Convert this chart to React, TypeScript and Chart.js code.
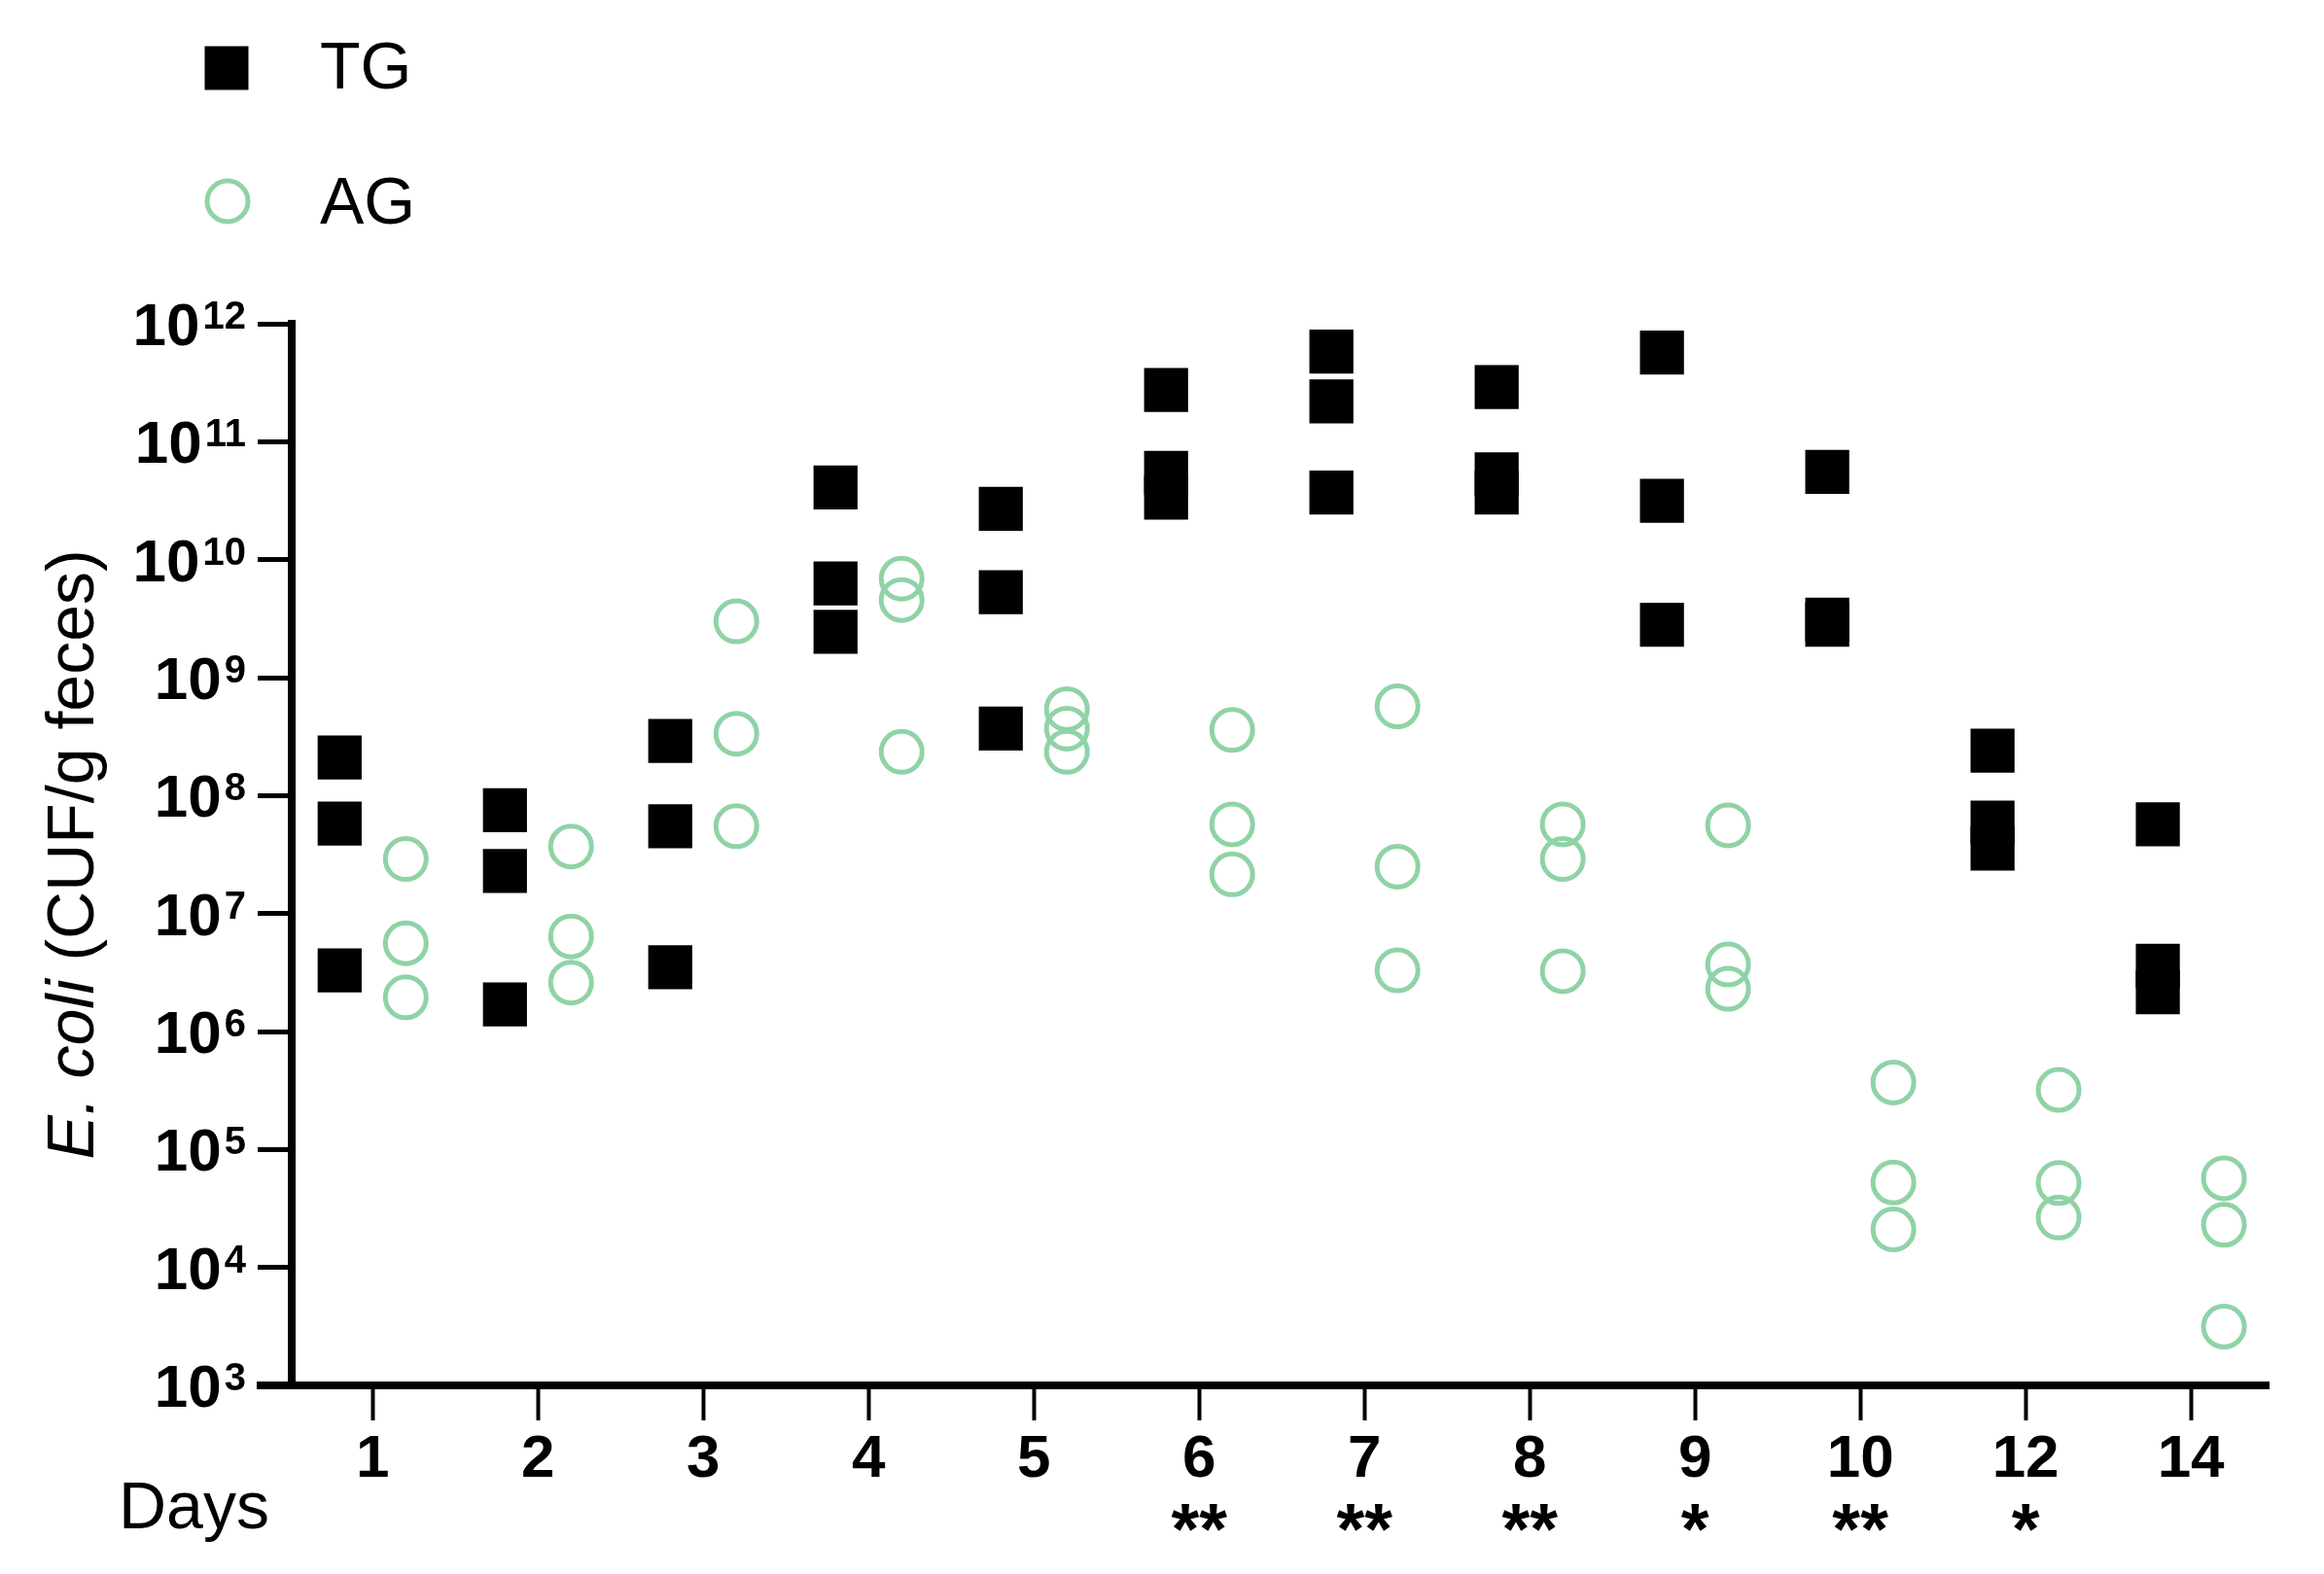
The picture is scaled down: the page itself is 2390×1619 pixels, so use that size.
import React, { useEffect, useRef } from 'react';
import { Chart, registerables } from 'chart.js';

Chart.register(...registerables);

// ---------- data ----------
const DAY_LABELS = ['1', '2', '3', '4', '5', '6', '7', '8', '9', '10', '12', '14'];
const SIGNIFICANCE = ['', '', '', '', '', '**', '**', '**', '*', '**', '*', ''];
const Y_EXPONENTS = [3, 4, 5, 6, 7, 8, 9, 10, 11, 12];

const TG_VALUES = [
  [2.1e8, 5.8e7, 3.3e6],
  [7.5e7, 2.3e7, 1.7e6],
  [2.9e8, 5.5e7, 3.5e6],
  [4.1e10, 6.3e9, 2.45e9],
  [2.7e10, 5.3e9, 3.7e8],
  [2.75e11, 5.45e10, 3.35e10],
  [5.8e11, 2.2e11, 3.7e10],
  [2.9e11, 5.3e10, 3.7e10],
  [5.7e11, 3.15e10, 2.8e9],
  [5.55e10, 3.1e9, 2.8e9],
  [2.4e8, 5.9e7, 3.55e7],
  [5.7e7, 3.6e6, 2.15e6],
];

const AG_VALUES = [
  [2.9e7, 5.6e6, 1.95e6],
  [3.7e7, 6.4e6, 2.6e6],
  [3.0e9, 3.35e8, 5.5e7],
  [6.9e9, 4.55e9, 2.35e8],
  [5.4e8, 3.7e8, 2.35e8],
  [3.6e8, 5.7e7, 2.15e7],
  [5.7e8, 2.5e7, 3.3e6],
  [5.7e7, 2.9e7, 3.25e6],
  [5.6e7, 3.7e6, 2.3e6],
  [3.7e5, 5.25e4, 2.1e4],
  [3.2e5, 5.2e4, 2.65e4],
  [5.7e4, 2.3e4, 3.15e3],
];

// ---------- style ----------
const W = 2390;
const H = 1619;
const FONT = "'Liberation Sans', Arial, Helvetica, sans-serif";
const GREEN = '#8fd3a6';
const TG_OFFSET = -0.2;
const AG_OFFSET = 0.2;

const toPoints = (groups: number[][], offset: number) =>
  groups.flatMap((vals, i) => vals.map((v) => ({ x: i + 1 + offset, y: v })));

const decorPlugin = {
  id: 'decor',
  afterDraw(chart: any) {
    const ctx = chart.ctx as CanvasRenderingContext2D;
    const area = chart.chartArea;
    const yScale = chart.scales.y;
    const xScale = chart.scales.x;
    ctx.save();

    // extend x-axis line to the left of the y axis
    ctx.fillStyle = '#000';
    ctx.fillRect(area.left - 36, area.bottom - 4, 40, 8);

    // y tick labels with superscripts
    const rightEdge = area.left - 47;
    Y_EXPONENTS.forEach((e) => {
      const y = yScale.getPixelForValue(Math.pow(10, e));
      const expText = String(e);
      ctx.font = `bold 40px ${FONT}`;
      const expW = ctx.measureText(expText).width;
      ctx.textAlign = 'left';
      ctx.textBaseline = 'alphabetic';
      ctx.fillStyle = '#000';
      ctx.fillText(expText, rightEdge - expW, y + 5);
      ctx.font = `bold 62px ${FONT}`;
      ctx.textAlign = 'right';
      ctx.fillText('10', rightEdge - expW - 3, y + 22);
    });

    // significance stars under the day labels
    ctx.font = `bold 74px ${FONT}`;
    ctx.textAlign = 'center';
    ctx.textBaseline = 'alphabetic';
    SIGNIFICANCE.forEach((s, i) => {
      if (!s) return;
      const x = xScale.getPixelForValue(i + 1);
      ctx.fillText(s, x, 1598);
    });

    // y axis title: "E. coli (CUF/g feces)"
    ctx.save();
    ctx.translate(96, (area.top + area.bottom) / 2);
    ctx.rotate(-Math.PI / 2);
    const italicPart = 'E. coli';
    const normalPart = ' (CUF/g feces)';
    ctx.font = `italic 68px ${FONT}`;
    const w1 = ctx.measureText(italicPart).width;
    ctx.font = `68px ${FONT}`;
    const w2 = ctx.measureText(normalPart).width;
    const start = -(w1 + w2) / 2;
    ctx.textAlign = 'left';
    ctx.textBaseline = 'alphabetic';
    ctx.font = `italic 68px ${FONT}`;
    ctx.fillText(italicPart, start, 0);
    ctx.font = `68px ${FONT}`;
    ctx.fillText(normalPart, start + w1, 0);
    ctx.restore();

    // "Days" label
    ctx.font = `68px ${FONT}`;
    ctx.textAlign = 'left';
    ctx.textBaseline = 'alphabetic';
    ctx.fillText('Days', 122, 1572);

    // legend
    const ds = chart.data.datasets;
    ctx.fillStyle = ds[0].backgroundColor;
    ctx.fillRect(233 - 22.5, 70 - 22.5, 45, 45);
    ctx.fillStyle = '#000';
    ctx.font = `68px ${FONT}`;
    ctx.fillText(ds[0].label, 329, 91);

    ctx.beginPath();
    ctx.arc(234, 207, 21, 0, Math.PI * 2);
    ctx.strokeStyle = ds[1].borderColor;
    ctx.lineWidth = 5;
    ctx.stroke();
    ctx.fillStyle = '#000';
    ctx.fillText(ds[1].label, 329, 230);

    ctx.restore();
  },
};

export default function App() {
  const canvasRef = useRef<HTMLCanvasElement | null>(null);

  useEffect(() => {
    const canvas = canvasRef.current;
    if (!canvas) return;
    const chart = new Chart(canvas, {
      type: 'scatter',
      data: {
        datasets: [
          {
            label: 'TG',
            data: toPoints(TG_VALUES, TG_OFFSET),
            pointStyle: 'rect',
            pointRadius: 32,
            pointHoverRadius: 32,
            backgroundColor: '#000000',
            borderColor: '#000000',
            pointBorderWidth: 0,
          },
          {
            label: 'AG',
            data: toPoints(AG_VALUES, AG_OFFSET),
            pointStyle: 'circle',
            pointRadius: 21,
            pointHoverRadius: 21,
            backgroundColor: 'rgba(0,0,0,0)',
            borderColor: GREEN,
            pointBorderWidth: 5,
          },
        ],
      },
      options: {
        animation: false,
        responsive: false,
        maintainAspectRatio: false,
        layout: { padding: { top: 333, right: 57, left: 0, bottom: 0 } },
        plugins: {
          legend: { display: false },
          tooltip: { enabled: false },
          title: { display: false },
        },
        scales: {
          x: {
            type: 'linear',
            min: 0.51,
            max: 12.47,
            afterBuildTicks: (scale: any) => {
              scale.ticks = DAY_LABELS.map((_, i) => ({ value: i + 1 }));
            },
            afterFit: (scale: any) => {
              scale.height = H - 1425;
            },
            border: { display: true, color: '#000', width: 8 },
            grid: {
              display: true,
              drawOnChartArea: false,
              drawTicks: true,
              tickLength: 36,
              tickWidth: 4,
              tickColor: '#000',
            },
            ticks: {
              autoSkip: false,
              maxRotation: 0,
              padding: 2,
              color: '#000',
              font: { family: FONT, size: 62, weight: 'bold', lineHeight: 1.26 },
              callback: (v: any) => DAY_LABELS[Math.round(Number(v)) - 1] ?? '',
            },
          },
          y: {
            type: 'logarithmic',
            min: 1e3,
            max: 1e12,
            afterBuildTicks: (scale: any) => {
              scale.ticks = Y_EXPONENTS.map((e) => ({ value: Math.pow(10, e) }));
            },
            afterFit: (scale: any) => {
              scale.width = 300;
            },
            border: { display: true, color: '#000', width: 8 },
            grid: {
              display: true,
              drawOnChartArea: false,
              drawTicks: true,
              tickLength: 35,
              tickWidth: 5,
              tickColor: '#000',
            },
            ticks: { display: false },
          },
        },
      },
      plugins: [decorPlugin],
    } as any);
    return () => chart.destroy();
  }, []);

  return (
    <div style={{ position: 'fixed', left: 0, top: 0, width: W, height: H, background: '#fff' }}>
      <canvas ref={canvasRef} width={W} height={H} style={{ width: W, height: H, display: 'block' }} />
    </div>
  );
}
